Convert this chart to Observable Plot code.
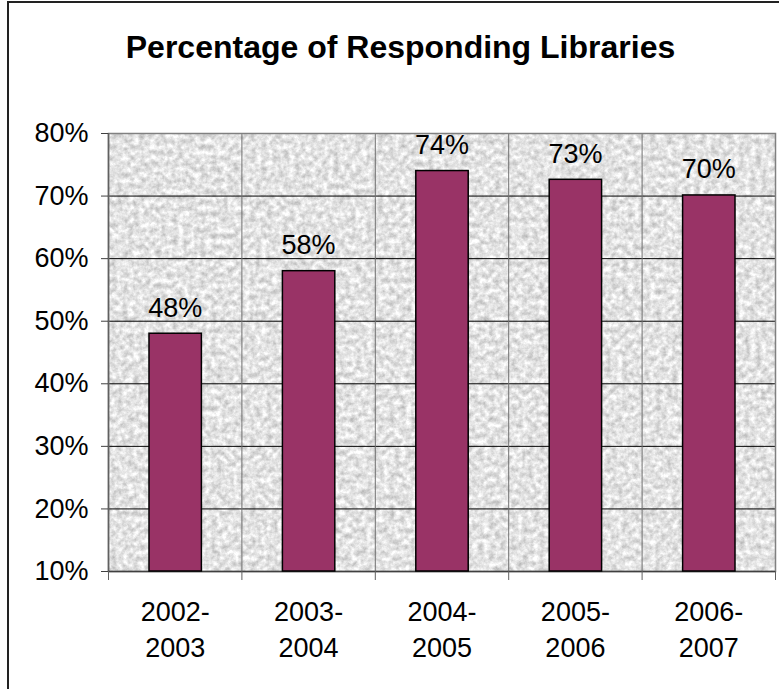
<!DOCTYPE html>
<html>
<head>
<meta charset="utf-8">
<script src="https://cdn.jsdelivr.net/npm/d3@7"></script>
<script src="https://cdn.jsdelivr.net/npm/@observablehq/plot@0.6"></script>
<style>
  html, body { margin: 0; padding: 0; background: #fff; }
  #wrap { position: relative; width: 779px; height: 689px; overflow: hidden; background: #fff; }
  #border { position: absolute; left: 7px; top: 1px; width: 800px; height: 800px;
            border-left: 2px solid #222; border-top: 2px solid #222; box-sizing: border-box; }
  #title { position: absolute; left: 11px; top: 31px; width: 779px; text-align: center;
           font-family: "Liberation Sans", Arial, sans-serif; font-weight: bold; font-size: 32px;
           line-height: 32px; color: #000; white-space: nowrap; }
  #chart { position: absolute; left: 0; top: 0; }
</style>
</head>
<body>
<div id="wrap">
  <div id="border"></div>
  <div id="chart"></div>
  <div id="title">Percentage of Responding Libraries</div>
</div>
<script>
const categories = ["2002-\n2003", "2003-\n2004", "2004-\n2005", "2005-\n2006", "2006-\n2007"];
const values = [48, 58, 74, 72.6, 70.1];
const valueLabels = ["48%", "58%", "74%", "73%", "70%"];
const yTicks = [10, 20, 30, 40, 50, 60, 70, 80];
const boundaries = [0, 1, 2, 3, 4, 5];

const data = categories.map((c, i) => ({i, cat: c, value: values[i], label: valueLabels[i]}));
const centers = data.map(d => d.i + 0.5);

const chart = Plot.plot({
  width: 779,
  height: 689,
  marginLeft: 108,
  marginRight: 4,
  marginTop: 133,
  marginBottom: 118,
  style: {fontFamily: "'Liberation Sans', Arial, sans-serif", fontSize: "27px", color: "#000", background: "transparent"},
  x: {domain: [0, 5], label: null},
  y: {domain: [10, 80], label: null},
  marks: [
    Plot.frame({fill: "#e4e4e4"}),
    Plot.gridY(yTicks, {stroke: "#000", strokeOpacity: 1, strokeWidth: 1}),
    Plot.gridX([1, 2, 3, 4], {stroke: "#707070", strokeOpacity: 1, strokeWidth: 1}),
    Plot.frame({stroke: "#808080", strokeWidth: 1.5}),
    Plot.ruleX([0], {stroke: "#606060", strokeWidth: 1.5}),
    Plot.ruleY([10], {stroke: "#404040", strokeWidth: 1.5}),
    Plot.rectY(data, {x1: d => d.i, x2: d => d.i + 1, y1: 10, y2: "value",
      insetLeft: 41, insetRight: 40, fill: "#993366", stroke: "#000", strokeWidth: 1.5}),
    Plot.text(data, {x: d => d.i + 0.5, y: "value", text: "label", dy: -17,
      lineAnchor: "bottom", fontSize: 27, fill: "#000"}),
    Plot.axisY(yTicks, {tickSize: 7, tickPadding: 13, tickFormat: d => d + "%",
      fontSize: 27, stroke: "#404040", label: null}),
    Plot.axisX(boundaries, {tickSize: 9, tickFormat: () => "", stroke: "#606060", label: null}),
    Plot.axisX(centers, {tickSize: 0, tickPadding: 25, tickFormat: d => categories[Math.floor(d)],
      fontSize: 27, lineHeight: 1.3, fill: "#000", label: null})
  ]
});

document.getElementById("chart").appendChild(chart);

// granite-like texture on the plot area background
const svg = d3.select(chart);
const defs = svg.insert("defs", ":first-child");
const filt = defs.append("filter").attr("id", "granite")
  .attr("x", 0).attr("y", 0).attr("width", 1).attr("height", 1)
  .attr("color-interpolation-filters", "sRGB");
filt.append("feTurbulence").attr("type", "fractalNoise").attr("baseFrequency", 0.18)
  .attr("numOctaves", 4).attr("seed", 11).attr("result", "noise");
filt.append("feColorMatrix").attr("in", "noise").attr("type", "matrix")
  .attr("values", "0.42 0 0 0 0.68  0.42 0 0 0 0.68  0.42 0 0 0 0.68  0 0 0 0 1");
const frames = chart.querySelectorAll('[aria-label="frame"]');
if (frames.length) {
  let el = frames[0];
  if (el.tagName.toLowerCase() !== "rect") el = el.querySelector("rect") || el;
  el.setAttribute("filter", "url(#granite)");
}
</script>
</body>
</html>
